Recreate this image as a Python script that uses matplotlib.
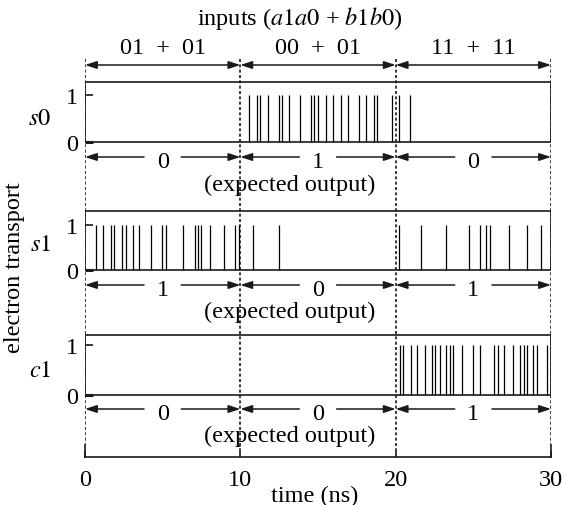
import matplotlib
matplotlib.use('Agg')
import matplotlib.pyplot as plt
from matplotlib.patches import Rectangle

# ---- data ----
s0_spikes = [10.58, 11.08, 11.29, 11.76, 12.47, 12.69, 13.16, 13.83, 14.56, 14.73,
             15.0, 15.5, 15.98, 16.45, 16.92, 17.63, 18.06, 18.6, 18.82, 19.79,
             20.21, 20.92]
s1_spikes = [0.71, 1.18, 1.66, 1.89, 2.37, 2.62, 3.07, 3.5, 4.24, 4.95, 5.2, 6.34,
             7.1, 7.27, 7.48, 8.02, 8.92, 9.63, 9.89, 10.8, 12.52,
             20.21, 21.61, 23.27, 24.69, 25.42, 25.81, 26.06, 27.27, 28.45, 29.35]
c1_spikes = [20.26, 20.5, 20.97, 21.4, 21.87, 22.37, 22.54, 22.86, 23.27, 23.48,
             23.7, 24.26, 24.95, 25.42, 26.3, 26.56, 26.99, 27.57, 28.0, 28.24,
             28.43, 28.86, 29.08, 29.72]
signal_names = [r'$s0$', r'$s1$', r'$c1$']
input_labels = ['01 + 01', '00 + 01', '11 + 11']
s0_expected = ['0', '1', '0']
s1_expected = ['1', '0', '1']
c1_expected = ['0', '0', '1']
boundaries = [0, 10, 20, 30]
xticks = [0, 10, 20, 30]

plt.rcParams['font.family'] = ['Liberation Serif', 'DejaVu Serif']
plt.rcParams['mathtext.fontset'] = 'stix'
FS = 17.5
LC = '#1a1a1a'

W, H = 565, 506
fig = plt.figure(figsize=(W / 100, H / 100), dpi=100)
X0, X1 = 85, 551
YB = 458
ax = fig.add_axes([X0 / W, 1 - YB / H, (X1 - X0) / W, YB / H])
ax.set_xlim(0, 30)
ax.set_ylim(YB, 0)


def px(xp):
    return (xp - X0) / (X1 - X0) * 30.0


# spines / ticks
ax.spines['top'].set_visible(False)
for s in ('left', 'right'):
    ax.spines[s].set_bounds(446, YB)
for s in ('left', 'right', 'bottom'):
    ax.spines[s].set_color(LC)
    ax.spines[s].set_linewidth(1.2)
ax.set_yticks([])
ax.set_xticks(xticks)
ax.set_xticklabels([str(t) for t in xticks], fontsize=FS)
ax.tick_params(axis='x', direction='in', length=4.5, width=1.2, color=LC, pad=9)

# dotted boundary lines
dot = (0, (1.8, 1.4))
ax.vlines([0, 30], 60, 446, colors=LC, linestyles=[dot], lw=1.2)
ax.vlines([10, 20], 60, 452, colors=LC, linestyles=[dot], lw=1.2)

# top: title and input arrows
ax.text(px(300), 18, r'inputs ($a1a0$ + $b1b0$)', fontsize=FS, ha='center', va='center')
arrow_kw = dict(arrowstyle='<|-|>,head_length=7,head_width=2.3', color=LC, lw=1.1,
                shrinkA=0, shrinkB=0, mutation_scale=1)
for i, lab in enumerate(input_labels):
    a, b = boundaries[i], boundaries[i + 1]
    ax.annotate('', xy=(b, 66), xytext=(a, 66), arrowprops=arrow_kw)
    ax.text((a + b) / 2, 48, lab.replace(' + ', '\u2002+\u2002'), fontsize=FS,
            ha='center', va='center')

# panels
panels = [(83, 142.5, 96), (212.3, 271, 226), (336, 395.7, 346)]
arrow_y = [158, 286, 410]
expected_y = [185, 312, 436]
name_y = [120, 246, 372]
spikes_all = [s0_spikes, s1_spikes, c1_spikes]
expected_all = [s0_expected, s1_expected, c1_expected]
half_arrow = dict(arrowstyle='-|>,head_length=7,head_width=2.3', color=LC, lw=1.1,
                  shrinkA=0, shrinkB=0, mutation_scale=1)

for k in range(3):
    top, bot, lvl = panels[k]
    ax.add_patch(Rectangle((0, top), 30, bot - top, fill=False, ec=LC, lw=1.2, zorder=3))
    ax.vlines(spikes_all[k], lvl, bot, colors='black', lw=0.9, zorder=2)
    # y ticks
    ax.plot([0, 0.5], [lvl, lvl], color=LC, lw=1.2, solid_capstyle='butt')
    ax.plot([0, 0.5], [bot, bot], color=LC, lw=2.2, solid_capstyle='butt')
    ax.text(px(78), lvl + 3, '1', fontsize=FS, ha='right', va='center')
    ax.text(px(78), bot + 3, '0', fontsize=FS, ha='right', va='center')
    ax.text(px(40), name_y[k], signal_names[k], fontsize=FS, ha='center', va='center')
    # expected output arrows
    ay = arrow_y[k]
    for i, lab in enumerate(expected_all[k]):
        a, b = boundaries[i], boundaries[i + 1]
        m = (a + b) / 2
        ax.annotate('', xy=(a, ay), xytext=(m - 1.2, ay), arrowprops=half_arrow)
        ax.annotate('', xy=(b, ay), xytext=(m + 1.2, ay), arrowprops=half_arrow)
        ax.text(m, ay - 6, lab, fontsize=FS, ha='center', va='top')
    ax.text(px(290), expected_y[k], '(expected output)', fontsize=FS, ha='center', va='center')

ax.text(px(15), 268, 'electron transport', fontsize=FS, ha='center', va='center', rotation=90)
ax.text(px(315), 496, 'time (ns)', fontsize=FS, ha='center', va='center')

fig.savefig('out.png', dpi=100)
